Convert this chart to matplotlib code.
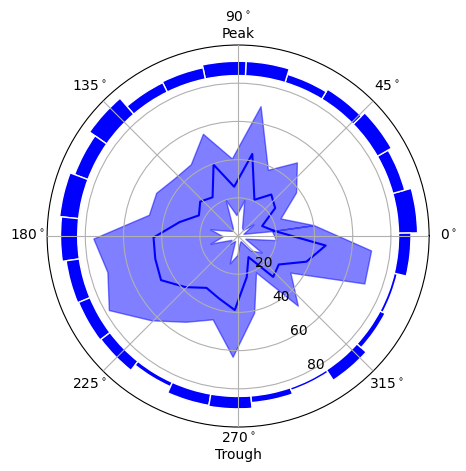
import numpy as np
import matplotlib
matplotlib.use('Agg')
import matplotlib.pyplot as plt

# 25 phase bins (deg, bin centres)
bin_deg = np.arange(25) * 14.4 + 8.2
upper = [40, 24, 38, 49.3, 38, 69, 40.7, 56.6, 45, 45, 48.5, 48, 75.8,
         71, 78, 63.3, 52.6, 45.6, 63.3, 41, 21.2, 48, 33.4, 70.6, 70]
mean = [19, 13.6, 24.3, 27.8, 20.8, 43.6, 25.9, 39.5, 24.3, 26.8, 23.2, 31.5, 44.3,
        45, 46.5, 38.4, 31.8, 34.2, 38.8, 22, 12.3, 28.2, 26, 38.2, 46.1]
lower = [18, 3, 10, 4, 5, 19, 11, 20, 5, 4, 6, 15, 8,
         15, 4, 6, 3, 15, 10, 4, 3, 10, 15, 4, 20]
ring = [10, 6.5, 8.5, 6, 4.5, 7.5, 7.5, 6, 5.5, 11, 7.5, 10, 9,
        7, 6.5, 6, 2.5, 6, 6.5, 3.5, 1.5, 6.5, 3, 1.7, 6.5]
ring_base = 84
angle_labels = ['0$^\\circ$', '45$^\\circ$', '90$^\\circ$\nPeak', '135$^\\circ$',
                '180$^\\circ$', '225$^\\circ$', '270$^\\circ$\nTrough', '315$^\\circ$']

theta = np.deg2rad(bin_deg)
th = np.append(theta, theta[0] + 2 * np.pi)

def closed(v):
    return np.append(v, v[0])

fig = plt.figure(figsize=(4.66, 4.71), dpi=100)
ax = fig.add_axes([0.101, 0.0934, 0.82, 0.811], projection='polar')
ax.fill_between(th, closed(lower), closed(upper), color='b', alpha=0.5)
ax.plot(th, closed(mean), color='b', lw=1.5)
ax.bar(theta, ring, width=np.deg2rad(14.4), bottom=ring_base, color='b',
       edgecolor='w', linewidth=1)
ax.set_rlim(0, 100)
ax.set_rticks([20, 40, 60, 80])
ax.set_rlabel_position(-63)
ax.set_thetagrids(np.arange(0, 360, 45), angle_labels)
ax.set_axisbelow(False)
fig.savefig('out.png')
